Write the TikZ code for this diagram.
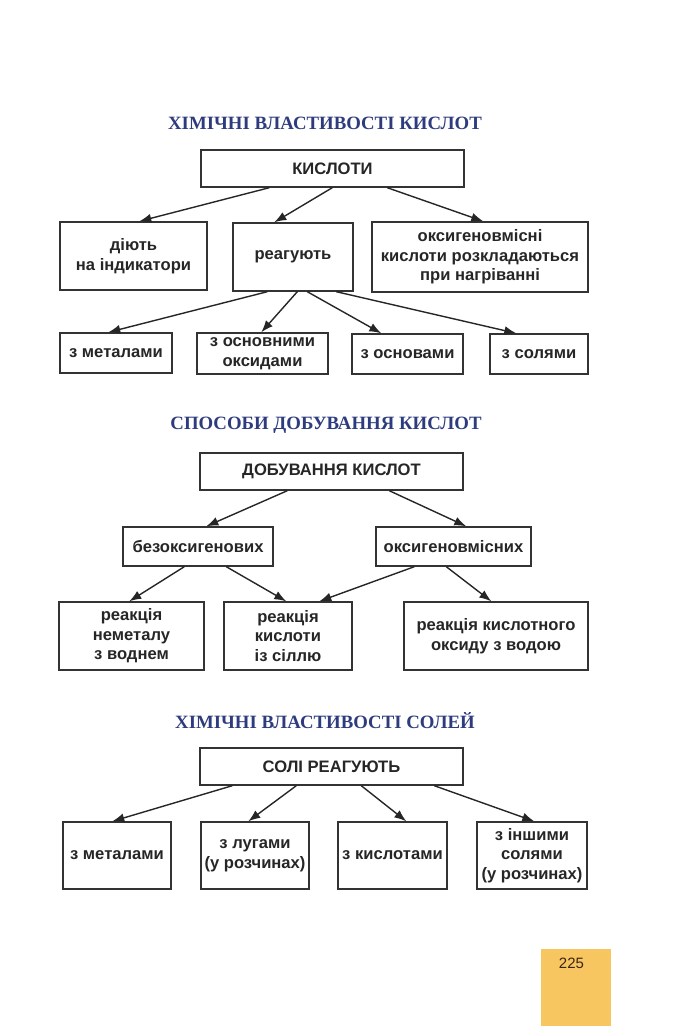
\documentclass[tikz,border=0pt]{standalone}
\usepackage{fontspec}
\setmainfont{Liberation Sans}
\newfontfamily\titlefont{Liberation Serif}
\usepackage{xcolor}
\usetikzlibrary{arrows.meta}
\definecolor{titleblue}{HTML}{2E3C7E}
\definecolor{boxline}{HTML}{333333}
\definecolor{pageorange}{HTML}{F8C660}
\definecolor{pagetext}{HTML}{3B2414}
\tikzstyle{schemebox} = [draw=boxline, fill=white, line width=1.4pt, rectangle,
    inner sep=0pt, align=center, text=black!85,
    font=\bfseries\fontsize{16.6}{19.5}\selectfont]
\tikzstyle{schemetitle} = [text=titleblue, font=\titlefont\bfseries\fontsize{18.8}{20}\selectfont]
\tikzstyle{schemearrow} = [draw=black!85, line width=1.4pt, -{Latex[length=12pt,width=9pt]}]

\begin{document}
\begin{tikzpicture}[x=1pt,y=-1pt]
\useasboundingbox (0,0) rectangle (680,1026);

\node[schemetitle] (title1) at (325,123) {ХІМІЧНІ ВЛАСТИВОСТІ КИСЛОТ};
\node[schemebox, minimum width=263pt, minimum height=37pt] (kisloty) at (332.5,168.5) {КИСЛОТИ};
\node[schemebox, minimum width=147pt, minimum height=68pt] (diyut) at (133.5,256) {діють\\на індикатори};
\node[schemebox, minimum width=120pt, minimum height=68pt] (reag) at (293,257) {реагують};
\node[schemebox, minimum width=216pt, minimum height=70pt] (rozkl) at (480,257) {оксигеновмісні\\кислоти розкладаються\\при нагріванні};
\node[schemebox, minimum width=112pt, minimum height=40pt] (metal) at (116,353) {з металами};
\node[schemebox, minimum width=131pt, minimum height=41pt] (oksyd) at (262.5,353.5) {з основними\\оксидами};
\node[schemebox, minimum width=111pt, minimum height=40pt] (osnov) at (407.5,354) {з основами};
\node[schemebox, minimum width=98pt, minimum height=40pt] (soli) at (539,354) {з солями};
\draw[schemearrow] ([xshift=69pt]kisloty.south west) -- ([xshift=80pt]diyut.north west);
\draw[schemearrow] ([xshift=132pt]kisloty.south west) -- ([xshift=42pt]reag.north west);
\draw[schemearrow] ([xshift=187pt]kisloty.south west) -- ([xshift=112pt]rozkl.north west);
\draw[schemearrow] ([xshift=35pt]reag.south west) -- ([xshift=49pt]metal.north west);
\draw[schemearrow] ([xshift=65pt]reag.south west) -- ([xshift=65pt]oksyd.north west);
\draw[schemearrow] ([xshift=75pt]reag.south west) -- ([xshift=30pt]osnov.north west);
\draw[schemearrow] ([xshift=104pt]reag.south west) -- ([xshift=27pt]soli.north west);

\node[schemetitle] (title2) at (326,425) {СПОСОБИ ДОБУВАННЯ КИСЛОТ};
\node[schemebox, minimum width=263pt, minimum height=37pt] (dobuv) at (331.5,471.5) {ДОБУВАННЯ КИСЛОТ};
\node[schemebox, minimum width=150pt, minimum height=39pt] (bez) at (198,546.5) {безоксигенових};
\node[schemebox, minimum width=155pt, minimum height=39pt] (oksm) at (453.5,546.5) {оксигеновмісних};
\node[schemebox, minimum width=145pt, minimum height=68pt] (nemet) at (131.5,636) {реакція\\неметалу\\з воднем};
\node[schemebox, minimum width=128pt, minimum height=68pt] (sil) at (288,636) {реакція\\кислоти\\із сіллю};
\node[schemebox, minimum width=184pt, minimum height=68pt] (voda) at (496,636) {реакція кислотного\\оксиду з водою};
\draw[schemearrow] ([xshift=88pt]dobuv.south west) -- ([xshift=84pt]bez.north west);
\draw[schemearrow] ([xshift=190pt]dobuv.south west) -- ([xshift=91pt]oksm.north west);
\draw[schemearrow] ([xshift=62pt]bez.south west) -- ([xshift=71pt]nemet.north west);
\draw[schemearrow] ([xshift=104pt]bez.south west) -- ([xshift=63pt]sil.north west);
\draw[schemearrow] ([xshift=39pt]oksm.south west) -- ([xshift=96pt]sil.north west);
\draw[schemearrow] ([xshift=71pt]oksm.south west) -- ([xshift=88pt]voda.north west);

\node[schemetitle] (title3) at (325,721) {ХІМІЧНІ ВЛАСТИВОСТІ СОЛЕЙ};
\node[schemebox, minimum width=263pt, minimum height=37pt] (solireag) at (331.5,766.5) {СОЛІ РЕАГУЮТЬ};
\node[schemebox, minimum width=108pt, minimum height=67pt] (smetal) at (117,855.5) {з металами};
\node[schemebox, minimum width=108pt, minimum height=67pt] (luh) at (255,855.5) {з лугами\\(у розчинах)};
\node[schemebox, minimum width=109pt, minimum height=67pt] (kysl) at (392.5,855.5) {з кислотами};
\node[schemebox, minimum width=110pt, minimum height=67pt] (insh) at (532,855.5) {з іншими\\солями\\(у розчинах)};
\draw[schemearrow] ([xshift=33pt]solireag.south west) -- ([xshift=50pt]smetal.north west);
\draw[schemearrow] ([xshift=97pt]solireag.south west) -- ([xshift=48pt]luh.north west);
\draw[schemearrow] ([xshift=162pt]solireag.south west) -- ([xshift=69pt]kysl.north west);
\draw[schemearrow] ([xshift=235pt]solireag.south west) -- ([xshift=58pt]insh.north west);

\node[fill=pageorange, minimum width=70pt, minimum height=77pt, inner sep=0pt] (pagebox) at (576,987.5) {};
\node[text=pagetext, font=\fontsize{15}{18}\selectfont] (pagenum) at (571.5,963) {225};
\end{tikzpicture}
\end{document}
